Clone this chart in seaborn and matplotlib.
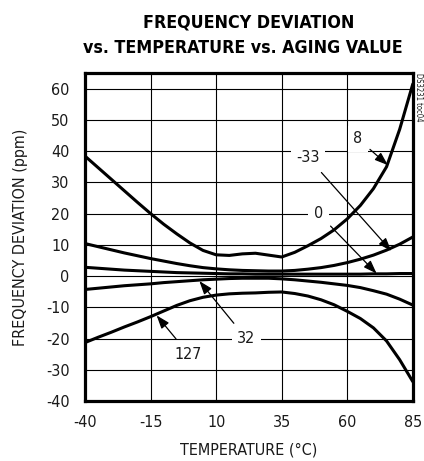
import pandas as pd
import seaborn as sns
import matplotlib.pyplot as plt

# temperatures (deg C) shared by every curve
temps = [-40, -35, -30, -25, -20, -15, -10, -5, 0, 5, 10, 15, 20, 25, 30,
         35, 40, 45, 50, 55, 60, 65, 70, 75, 80, 85]

# frequency deviation (ppm) for each aging register value
aging_8 = [38.4, 34.7, 31.0, 27.3, 23.6, 20.0, 16.6, 13.5, 10.6, 8.2, 6.8,
           6.6, 7.1, 7.3, 6.7, 6.1, 7.6, 9.7, 12.0, 14.8, 18.3, 22.6, 28.0,
           35.0, 47.0, 61.5]
aging_m33 = [10.4, 9.4, 8.4, 7.4, 6.5, 5.6, 4.8, 4.0, 3.3, 2.7, 2.3, 2.0,
             1.8, 1.7, 1.6, 1.6, 1.8, 2.2, 2.7, 3.4, 4.3, 5.4, 6.7, 8.3,
             10.2, 12.5]
aging_0 = [2.8, 2.5, 2.2, 1.9, 1.7, 1.5, 1.3, 1.1, 1.0, 0.9, 0.8, 0.7, 0.7,
           0.6, 0.6, 0.6, 0.6, 0.6, 0.6, 0.6, 0.6, 0.6, 0.7, 0.7, 0.8, 0.8]
aging_32 = [-4.3, -3.9, -3.5, -3.1, -2.8, -2.5, -2.1, -1.8, -1.5, -1.2, -1.0,
            -0.8, -0.7, -0.7, -0.7, -0.9, -1.2, -1.6, -2.0, -2.5, -3.0, -3.7,
            -4.7, -5.8, -7.4, -9.3]
aging_127 = [-21.3, -19.6, -18.0, -16.3, -14.7, -13.0, -11.2, -9.4, -7.9,
             -6.8, -6.1, -5.7, -5.5, -5.4, -5.2, -5.1, -5.6, -6.4, -7.6, -9.2,
             -11.3, -13.6, -16.6, -20.8, -26.8, -33.8]

curves = {"8": aging_8, "-33": aging_m33, "0": aging_0,
          "32": aging_32, "127": aging_127}

# label text, label position, arrow tip (data coords)
labels = ["8", "-33", "0", "32", "127"]
label_pos = [(64, 44), (45, 38), (49, 20), (21.5, -20), (-0.5, -25)]
arrow_tips = [(75.5, 35.5), (76.8, 8.0), (71.2, 0.8), (3.6, -1.6), (-12.7, -12.6)]

x_ticks = [-40, -15, 10, 35, 60, 85]
y_ticks = [-40, -30, -20, -10, 0, 10, 20, 30, 40, 50, 60]

frames = [pd.DataFrame({"temp": temps, "ppm": v, "aging": k})
          for k, v in curves.items()]
df = pd.concat(frames, ignore_index=True)

sns.set_style("white")
plt.rcParams["font.family"] = ["DejaVu Sans"]
plt.rcParams["font.stretch"] = "condensed"
plt.rcParams["axes.unicode_minus"] = False

fig = plt.figure(figsize=(4.24, 4.61), dpi=100)
ax = fig.add_axes([0.2005, 0.1302, 0.7731, 0.7114])

sns.lineplot(data=df, x="temp", y="ppm", units="aging", estimator=None,
             color="black", linewidth=2.2, ax=ax, zorder=3)

ax.set_xlim(-40, 85)
ax.set_ylim(-40, 65)
ax.set_xticks(x_ticks)
ax.set_yticks(y_ticks)
ax.grid(True, color="black", linewidth=0.8)
ax.tick_params(length=0, labelsize=11.5, colors="#1a1a1a")
ax.tick_params(axis="x", pad=10)
ax.tick_params(axis="y", pad=11)
for s in ax.spines.values():
    s.set_visible(True)
    s.set_color("black")
    s.set_linewidth(2.3)

ax.set_xlabel("TEMPERATURE (°C)", fontsize=11.5, color="#1a1a1a", labelpad=9)
ax.set_ylabel("FREQUENCY DEVIATION (ppm)", fontsize=11.5, color="#1a1a1a",
              labelpad=13)

for txt, pos, tip in zip(labels, label_pos, arrow_tips):
    ax.annotate(txt, xy=tip, xytext=pos, fontsize=11.5, color="#1a1a1a",
                ha="center", va="center", zorder=5,
                bbox=dict(boxstyle="square,pad=0.35", fc="white", ec="none"),
                arrowprops=dict(arrowstyle="-|>,head_length=0.7,head_width=0.25",
                                color="black", lw=0.9, shrinkA=2, shrinkB=0))

fig.text(0.587, 0.951, "FREQUENCY DEVIATION", ha="center", va="center",
         fontsize=12.8, fontweight="bold", color="black")
fig.text(0.573, 0.895, "vs. TEMPERATURE vs. AGING VALUE", ha="center",
         va="center", fontsize=12.8, fontweight="bold", color="black")
fig.text(0.986, 0.842, "DS3231 toc04", rotation=-90, ha="center", va="top",
         fontsize=5.5, color="#1a1a1a")

fig.savefig("out.png", dpi=100)
